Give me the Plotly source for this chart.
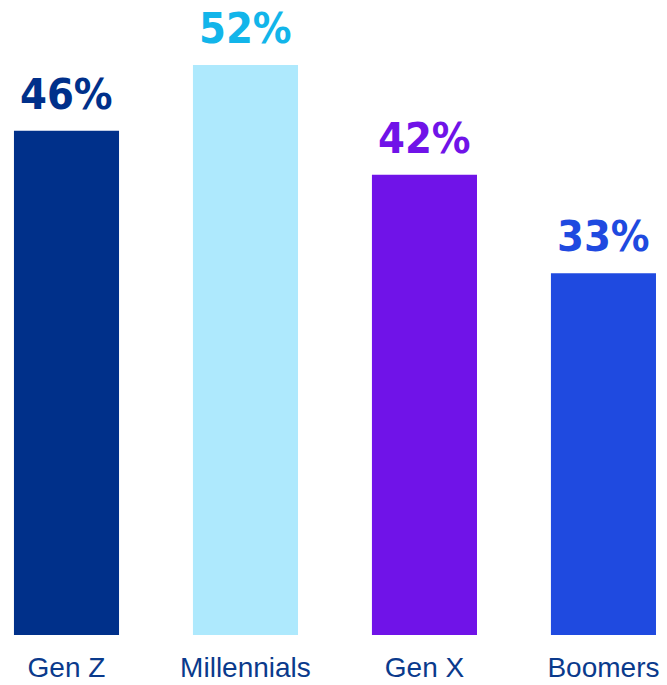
import plotly.graph_objects as go

generations = ["Gen Z", "Millennials", "Gen X", "Boomers"]
shares = [46, 52, 42, 33]
bar_colors = ["#00308a", "#aee9fd", "#7013e8", "#1f4ae0"]
label_colors = ["#00308a", "#12b5ea", "#7013e8", "#1f4ae0"]

fig = go.Figure(
    go.Bar(
        x=generations,
        y=shares,
        marker=dict(color=bar_colors, line=dict(width=0)),
        width=0.587,
        hoverinfo="skip",
    )
)

# value labels centred a fixed distance above each bar
for gen, val, col in zip(generations, shares, label_colors):
    fig.add_annotation(
        x=gen,
        y=val,
        text=f"{val}%",
        showarrow=False,
        yanchor="middle",
        yshift=37,
        font=dict(family="DejaVu Sans Condensed, sans-serif",
                  size=43, color=col, weight="bold"),
    )

fig.update_layout(
    width=667,
    height=685,
    margin=dict(l=0, r=0, t=0, b=50),
    paper_bgcolor="white",
    plot_bgcolor="white",
    showlegend=False,
    xaxis=dict(
        range=[-0.3715, 3.355],
        automargin=False,
        showgrid=False,
        zeroline=False,
        showline=False,
        ticks="",
        tickfont=dict(family="Liberation Sans, Arial, sans-serif", size=28, color="#0a3a8c"),
        ticklabelstandoff=13,
    ),
    yaxis=dict(
        range=[0, 57.94],
        visible=False,
    ),
)

fig.write_html("out.html")
